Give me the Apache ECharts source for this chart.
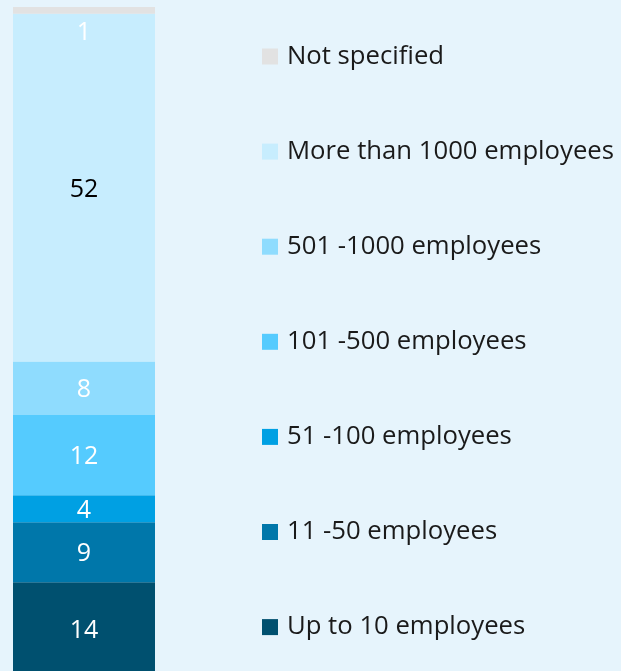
<!DOCTYPE html>
<html>
<head>
<meta charset="utf-8">
<script src="https://cdn.jsdelivr.net/npm/echarts@6/dist/echarts.min.js"></script>
<style>
  html, body { margin: 0; padding: 0; background: #e6f4fc; }
  #chart { width: 621px; height: 671px; }
</style>
</head>
<body>
<div id="chart"></div>
<script>
// company size shares, bottom to top of the bar
var sizes = ['Up to 10 employees', '11 -50 employees', '51 -100 employees', '101 -500 employees',
  '501 -1000 employees', 'More than 1000 employees', 'Not specified'];
var shares = [14, 9, 4, 12, 8, 52, 1];
var colors = ['#00506f', '#0077aa', '#00a0e3', '#55cbfe', '#8fdcfe', '#c7edfe', '#e2e2e2'];
var labelColors = ['#ffffff', '#ffffff', '#ffffff', '#ffffff', '#ffffff', '#000000', '#ffffff'];

var myChart = echarts.init(document.getElementById('chart'));

var series = sizes.map(function (name, i) {
  var s = {
    name: name,
    type: 'bar',
    stack: 'total',
    barWidth: '100%',
    data: [shares[i]],
    itemStyle: { color: colors[i] },
    label: {
      show: true,
      position: 'inside',
      offset: [0, 2],
      color: labelColors[i],
      fontFamily: 'Open Sans',
      fontSize: 25
    }
  };
  // the tiny top segment gets its label pushed down into the next block
  if (name == 'Not specified') {
    s.label.offset = [0, 23];
  }
  return s;
});

var option = {
  backgroundColor: '#e6f4fc',
  animation: false,
  grid: {
    left: 13,
    width: 142,
    top: 7,
    height: 669,
    outerBoundsMode: 'none'
  },
  xAxis: {
    type: 'category',
    data: ['share'],
    show: false
  },
  yAxis: {
    type: 'value',
    min: 0,
    max: 100,
    show: false
  },
  legend: {
    orient: 'vertical',
    left: 262,
    top: 43.5,
    padding: 0,
    icon: 'rect',
    itemWidth: 16,
    itemHeight: 16,
    itemGap: 69.1,
    data: sizes.slice().reverse(),
    textStyle: {
      color: '#1a1a1a',
      fontFamily: 'Open Sans',
      fontSize: 25.7,
      padding: [0, 0, 0, 4]
    }
  },
  series: series
};
myChart.setOption(option);
</script>
</body>
</html>
